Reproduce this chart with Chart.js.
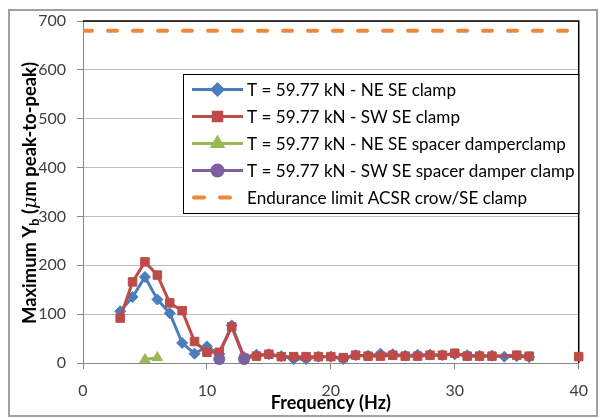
<!DOCTYPE html>
<html>
<head>
<meta charset="utf-8">
<script src="https://cdn.jsdelivr.net/npm/chart.js@4.4.0/dist/chart.umd.min.js"></script>
<style>
html, body { margin: 0; padding: 0; background: #fff; }
#wrap { width: 600px; height: 418px; }
</style>
</head>
<body>
<div id="wrap"><canvas id="vibChart" width="600" height="418"></canvas></div>
<script>
// frequencies (Hz) and Yb values (um peak-to-peak)
const freqNeClamp = [ 3, 4, 5, 6, 7, 8, 9, 10, 11, 12, 13, 14, 15, 16, 17, 18, 19, 20, 21, 22, 23, 24, 25, 26, 27, 28, 29, 30, 31, 32, 33, 34, 35, 36 ]
const neClamp = [ 106, 135, 176, 130, 102, 41, 19, 34, 18, 77, 12, 17, 18, 14, 8, 8, 13, 13, 8, 16, 15, 19, 18, 15, 17, 17, 16, 18, 16, 15, 15, 13, 14, 12 ]

const freqSwClamp = [ 3, 4, 5, 6, 7, 8, 9, 10, 11, 12, 13, 14, 15, 16, 17, 18, 19, 20, 21, 22, 23, 24, 25, 26, 27, 28, 29, 30, 31, 32, 33, 35, 36, 38, 40 ]
const swClamp = [ 92, 166, 207, 180, 123, 107, 44, 22, 22, 74, 10, 14, 18, 13, 13, 13, 13, 13, 11, 16, 14, 14, 16, 14, 14, 16, 16, 20, 14, 14, 14, 16, 14, null, 13 ]

const freqNeSpacer = [ 5, 6 ]
const neSpacer = [ 7, 11 ]

const freqSwSpacer = [ 11, 12, 13 ]
const swSpacer = [ 8, null, 8 ]

const freqLimit = [ 0, 40 ]
const enduranceLimit = [ 680, 680 ]

const xTicks = [ 0, 10, 20, 30, 40 ]
const yTicks = [ 0, 100, 200, 300, 400, 500, 600, 700 ]

const seriesNames = [
	'T = 59.77 kN - NE SE clamp',
	'T = 59.77 kN - SW SE clamp',
	'T = 59.77 kN - NE SE spacer damperclamp',
	'T = 59.77 kN - SW SE spacer damper clamp',
	'Endurance limit ACSR crow/SE clamp'
]

const toPoints = (xs, ys) => xs.map((x, i) => ({ x, y: ys[i] }))

const BLUE = '#4A7EBB'
const RED = '#BE4B48'
const GREEN = '#98B954'
const PURPLE = '#7D60A0'
const ORANGE = '#F0883A'
const FONT = 'Lato, "Open Sans", sans-serif'

const lineSet = (label, data, color, pointStyle, radius, order) => ({
	label,
	data,
	borderColor: color,
	backgroundColor: color,
	borderWidth: 3,
	pointStyle,
	pointRadius: radius,
	pointBorderWidth: 1,
	pointBorderColor: color,
	pointBackgroundColor: color,
	tension: 0,
	clip: false,
	order
})

const datasets = [
	lineSet( seriesNames[0], toPoints( freqNeClamp, neClamp ), BLUE, 'rectRot', 5.5, 5 ),
	lineSet( seriesNames[1], toPoints( freqSwClamp, swClamp ), RED, 'rect', 6, 4 ),
	lineSet( seriesNames[2], toPoints( freqNeSpacer, neSpacer ), GREEN, 'triangle', 6, 3 ),
	lineSet( seriesNames[3], toPoints( freqSwSpacer, swSpacer ), PURPLE, 'circle', 5.5, 2 ),
	{
		label: seriesNames[4],
		data: toPoints( freqLimit, enduranceLimit ),
		borderColor: ORANGE,
		borderWidth: 4,
		borderDash: [ 9, 16 ],
		borderCapStyle: 'round',
		pointRadius: 0,
		order: 1
	}
]

// excel look: outer frame, black top/right plot border, boxed legend, y title with subscript
const excelFrame = {
	id: 'excelFrame',
	beforeDraw(chart) {
		const ctx = chart.ctx
		ctx.save()
		ctx.fillStyle = '#fff'
		ctx.fillRect( 0, 0, chart.width, chart.height )
		ctx.strokeStyle = '#A0A0A0'
		ctx.lineWidth = 2
		ctx.strokeRect( 9, 10, 588, 406 )
		ctx.restore()
	},
	beforeDatasetsDraw(chart) {
		const { ctx, chartArea: a } = chart
		ctx.save()
		ctx.strokeStyle = '#000'
		ctx.lineWidth = 1.5
		ctx.beginPath()
		ctx.moveTo( a.left, a.top )
		ctx.lineTo( a.right, a.top )
		ctx.lineTo( a.right, a.bottom )
		ctx.stroke()
		ctx.restore()
	},
	afterDraw(chart) {
		const ctx = chart.ctx
		const a = chart.chartArea
		ctx.save()

		// legend
		const box = { left: 183.5, top: 74.5, right: a.right, bottom: 213.5 }
		ctx.fillStyle = '#fff'
		ctx.fillRect( box.left, box.top, box.right - box.left, box.bottom - box.top )
		ctx.strokeStyle = '#000'
		ctx.lineWidth = 1
		ctx.strokeRect( box.left, box.top, box.right - box.left, box.bottom - box.top )

		ctx.font = '16px ' + FONT
		const widest = Math.max( ...seriesNames.map(s => ctx.measureText( s ).width) )
		const size = 16 * 328 / widest
		ctx.font = size.toFixed( 2 ) + 'px ' + FONT
		ctx.textBaseline = 'middle'
		ctx.textAlign = 'left'
		const rows = [ 89.5, 116.5, 143.5, 170.5, 197.5 ]
		const x0 = 192
		const x1 = 243
		chart.data.datasets.forEach((ds, i) => {
			const y = rows[i]
			ctx.strokeStyle = ds.borderColor
			ctx.lineWidth = ds.borderWidth
			ctx.lineCap = ds.borderCapStyle || 'butt'
			ctx.beginPath()
			if (ds.borderDash) {
				ctx.moveTo( x0 + 2, y )
				ctx.lineTo( x0 + 12, y )
				ctx.moveTo( x0 + 28, y )
				ctx.lineTo( x0 + 38, y )
			} else {
				ctx.moveTo( x0, y )
				ctx.lineTo( x1, y )
			}
			ctx.stroke()
			ctx.lineCap = 'butt'
			if (ds.pointRadius) {
				ctx.fillStyle = ds.pointBackgroundColor
				ctx.strokeStyle = ds.pointBorderColor
				Chart.helpers.drawPoint( ctx, {
					pointStyle: ds.pointStyle,
					radius: ds.pointRadius,
					rotation: 0,
					borderWidth: 1
				}, (x0 + x1) / 2, y )
			}
			ctx.fillStyle = '#000'
			ctx.fillText( ds.label, 247, y + 1 )
		})

		// y axis title: Maximum Y_b (μm peak-to-peak), sized to the reference length
		const parts = [
			{ t: 'Maximum Y', bold: true, s: 1, dy: 0 },
			{ t: 'b', bold: true, s: 0.68, dy: 3 },
			{ t: ' (', bold: true, s: 1, dy: 0 },
			{ t: '\u03bc', italic: true, s: 1.05, dy: 0 },
			{ t: 'm peak-to-peak)', bold: true, s: 1, dy: 0 }
		]
		const fontOf = (p, base) => {
			const px = (base * p.s).toFixed( 2 ) + 'px '
			return p.italic ? 'italic ' + px + '"DejaVu Serif", serif' : 'bold ' + px + FONT
		}
		const measure = base => parts.reduce((sum, p) => {
			ctx.font = fontOf( p, base )
			return sum + ctx.measureText( p.t ).width
		}, 0)
		const base = 16 * 262 / measure( 16 )
		const total = measure( base )
		ctx.translate( 36, 193 )
		ctx.rotate( -Math.PI / 2 )
		ctx.fillStyle = '#000'
		ctx.textBaseline = 'alphabetic'
		let cx = -total / 2
		parts.forEach(p => {
			ctx.font = fontOf( p, base )
			ctx.fillText( p.t, cx, p.dy )
			cx += ctx.measureText( p.t ).width
		})
		ctx.restore()
	}
}

new Chart( document.getElementById( 'vibChart' ), {
	type: 'line',
	data: { datasets },
	options: {
		responsive: false,
		animation: false,
		devicePixelRatio: 1,
		layout: {
			padding: { top: 21, right: 16, left: 0, bottom: 0 }
		},
		plugins: {
			legend: { display: false },
			tooltip: { enabled: false }
		},
		scales: {
			x: {
				type: 'linear',
				min: 0,
				max: 40,
				afterBuildTicks: scale => {
					scale.ticks = xTicks.map(v => ({ value: v }))
				},
				afterFit: scale => {
					scale.height = 55
				},
				ticks: {
					font: { family: FONT, size: 16 },
					color: '#404040',
					padding: 12
				},
				grid: {
					drawOnChartArea: false,
					tickLength: 6,
					color: '#868686'
				},
				border: { color: '#868686' },
				title: {
					display: true,
					text: 'Frequency (Hz)',
					font: { family: FONT, size: 18, weight: 'bold' },
					color: '#000',
					padding: { top: 0, bottom: 4 }
				}
			},
			y: {
				min: 0,
				max: 700,
				afterBuildTicks: scale => {
					scale.ticks = yTicks.map(v => ({ value: v }))
				},
				afterFit: scale => {
					scale.width = 83
				},
				ticks: {
					font: { family: FONT, size: 16 },
					color: '#404040',
					padding: 11
				},
				grid: {
					color: '#BEBEBE',
					tickColor: '#868686',
					tickLength: 6
				},
				border: { color: '#868686' }
			}
		}
	},
	plugins: [ excelFrame ]
} )
</script>
</body>
</html>
